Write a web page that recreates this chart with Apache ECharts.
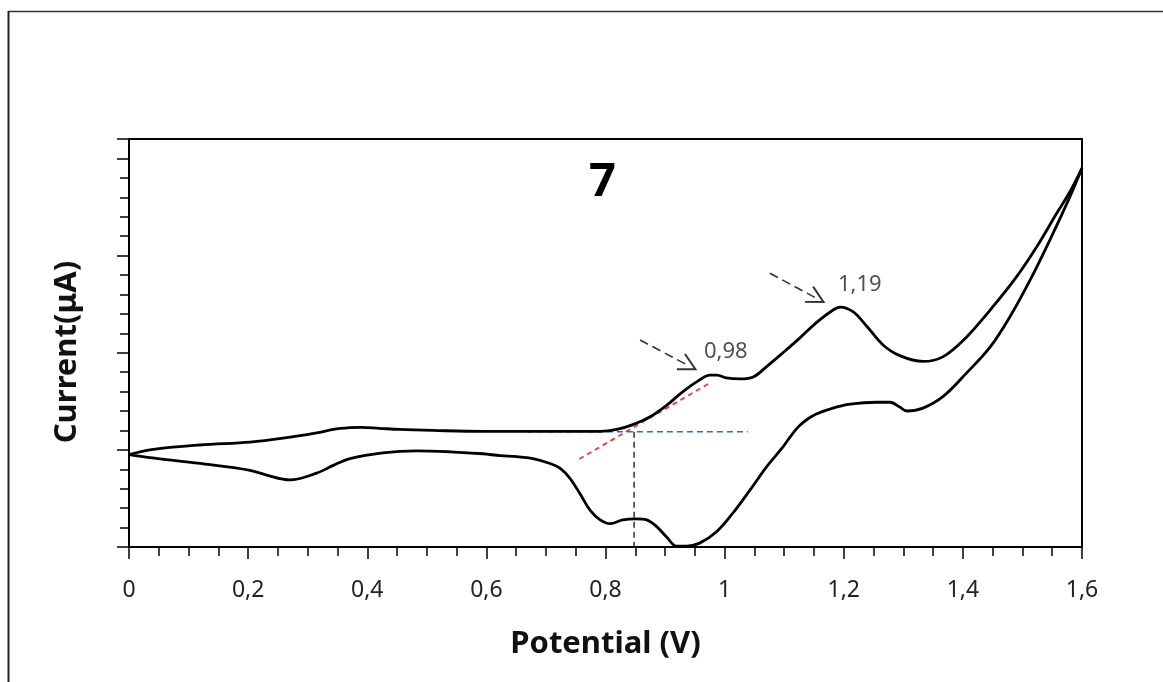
<!DOCTYPE html>
<html><head><meta charset="utf-8">
<script src="https://cdn.jsdelivr.net/npm/echarts@6/dist/echarts.min.js"></script>
<style>html,body{margin:0;padding:0;background:#fff}#c{width:1163px;height:682px}</style>
</head><body><div id="c"></div>
<script>
// ---- data (potential in V, current in arbitrary µA units) ----
const fwdPotential = [0, 0.035, 0.119, 0.203, 0.259, 0.315, 0.343, 0.371, 0.390, 0.420, 0.455, 0.510, 0.594, 0.707, 0.791, 0.819, 0.846, 0.875, 0.903, 0.930, 0.958, 0.975, 0.987, 1.003, 1.026, 1.048, 1.071, 1.098, 1.126, 1.154, 1.182, 1.194, 1.216, 1.239, 1.266, 1.294, 1.333, 1.367, 1.406, 1.446, 1.490, 1.524, 1.558, 1.580, 1.600];
const fwdCurrent   = [-0.05, 0.00, 0.05, 0.08, 0.12, 0.175, 0.21, 0.228, 0.232, 0.222, 0.21, 0.20, 0.19, 0.19, 0.19, 0.21, 0.26, 0.34, 0.46, 0.60, 0.72, 0.77, 0.77, 0.74, 0.73, 0.75, 0.86, 1.00, 1.15, 1.31, 1.44, 1.47, 1.42, 1.27, 1.08, 0.97, 0.91, 0.96, 1.16, 1.44, 1.78, 2.09, 2.44, 2.66, 2.90];
const revPotential = [1.600, 1.580, 1.546, 1.513, 1.479, 1.446, 1.406, 1.367, 1.333, 1.306, 1.294, 1.278, 1.255, 1.211, 1.182, 1.154, 1.140, 1.126, 1.112, 1.098, 1.071, 1.043, 1.014, 0.987, 0.958, 0.936, 0.919, 0.903, 0.886, 0.869, 0.852, 0.829, 0.808, 0.791, 0.774, 0.757, 0.740, 0.724, 0.707, 0.678, 0.651, 0.623, 0.594, 0.539, 0.483, 0.426, 0.371, 0.343, 0.315, 0.270, 0.231, 0.203, 0.119, 0.035, 0];
const revCurrent   = [2.90, 2.61, 2.16, 1.75, 1.37, 1.06, 0.79, 0.55, 0.43, 0.40, 0.44, 0.49, 0.49, 0.47, 0.43, 0.37, 0.32, 0.25, 0.15, 0.03, -0.17, -0.41, -0.65, -0.84, -0.96, -0.99, -0.99, -0.90, -0.79, -0.72, -0.71, -0.72, -0.76, -0.72, -0.62, -0.45, -0.29, -0.19, -0.14, -0.09, -0.07, -0.06, -0.04, -0.02, -0.01, -0.03, -0.09, -0.16, -0.24, -0.31, -0.26, -0.21, -0.14, -0.08, -0.05];

const tangentPotential  = [0.756, 0.975];
const tangentCurrent    = [-0.094, 0.688];
const baselinePotential = [0.668, 1.039];
const baselineCurrent   = [0.187, 0.187];
const onsetPotential    = [0.848, 0.848];
const onsetCurrent      = [0.187, -1];

const peakLabels         = ['0,98', '1,19'];
const peakLabelPotential = [1.002, 1.227];
const peakLabelCurrent   = [1.007, 1.702];
const arrowStartPotential = [0.858, 1.076];
const arrowStartCurrent   = [1.131, 1.818];
const arrowEndPotential   = [0.940, 1.155];
const arrowEndCurrent     = [0.865, 1.558];

const xTickValues = [0, 0.2, 0.4, 0.6, 0.8, 1, 1.2, 1.4, 1.6];
const xTickLabels = ['0', '0,2', '0,4', '0,6', '0,8', '1', '1,2', '1,4', '1,6'];
const chartTitle = '7';

// ---- build ----
const zip = (a, b) => a.map((v, i) => [v, b[i]]);
const FONT = 'Noto Sans';
const chevron = 'path://M0,0 L10,18 L8.2,19 L0,4.2 L-8.2,19 L-10,18 Z';

const chart = echarts.init(document.getElementById('c'), null, {renderer: 'canvas'});
chart.setOption({
  animation: false,
  backgroundColor: '#fff',
  title: {
    text: chartTitle, left: 584, top: 154,
    textStyle: {fontFamily: FONT, fontSize: 47, fontWeight: 'bold', color: '#000'}
  },
  graphic: [
    {type: 'line', shape: {x1: 8, y1: 11.5, x2: 1163, y2: 11.5}, style: {stroke: '#333', lineWidth: 1.5}},
    {type: 'line', shape: {x1: 8.5, y1: 11, x2: 8.5, y2: 682}, style: {stroke: '#222', lineWidth: 2}}
  ],
  grid: {left: 129, right: 81, top: 139, bottom: 135, show: true, borderColor: '#000', borderWidth: 2, backgroundColor: 'transparent'},
  xAxis: {
    type: 'value', min: 0, max: 1.6, interval: 0.2,
    name: 'Potential (V)', nameLocation: 'middle', nameGap: 82,
    nameTextStyle: {fontFamily: FONT, fontSize: 31, fontWeight: 'bold', color: '#111'},
    axisLine: {onZero: false, lineStyle: {color: '#000', width: 2}},
    axisTick: {show: true, length: 12, lineStyle: {color: '#000', width: 1.5}},
    minorTick: {show: true, splitNumber: 4, length: 9, lineStyle: {color: '#000', width: 1.5}},
    splitLine: {show: false},
    axisLabel: {
      margin: 32, fontFamily: FONT, fontSize: 23, color: '#222',
      formatter: v => { const i = xTickValues.findIndex(t => Math.abs(t - v) < 1e-6); return i >= 0 ? xTickLabels[i] : ''; }
    }
  },
  yAxis: [
    {
      type: 'value', min: -1, max: 3.2, interval: 0.2,
      name: 'Current(μA)', nameLocation: 'middle', nameGap: 46,
      nameTextStyle: {fontFamily: FONT, fontSize: 31, fontWeight: 'bold', color: '#111', padding: [0, 18, 0, 0]},
      axisLine: {show: true, onZero: false, lineStyle: {color: '#000', width: 2}},
      axisTick: {show: true, length: 9, lineStyle: {color: '#000', width: 1.5}},
      axisLabel: {show: false},
      splitLine: {show: false}
    },
    {
      type: 'value', min: -1, max: 3.2, interval: 1, position: 'left',
      axisLine: {show: false, onZero: false},
      axisTick: {show: true, length: 12, lineStyle: {color: '#000', width: 1.5}},
      axisLabel: {show: false},
      splitLine: {show: false}
    }
  ],
  series: [
    {type: 'line', data: zip(fwdPotential, fwdCurrent), smooth: 0.35, symbol: 'none', lineStyle: {color: '#000', width: 2.8}, z: 5},
    {type: 'line', data: zip(revPotential, revCurrent), smooth: 0.35, symbol: 'none', lineStyle: {color: '#000', width: 2.8}, z: 5},
    {type: 'line', data: zip(tangentPotential, tangentCurrent), symbol: 'none', lineStyle: {color: '#f03a3a', width: 1.8, type: [5, 4]}},
    {type: 'line', data: zip(baselinePotential, baselineCurrent), symbol: 'none', lineStyle: {color: '#2f6fa8', width: 1.4, type: [6, 4]}},
    {type: 'line', data: zip(onsetPotential, onsetCurrent), symbol: 'none', lineStyle: {color: '#222', width: 1.4, type: [6, 4]}},
    {
      type: 'lines', coordinateSystem: 'cartesian2d', silent: true,
      data: arrowStartPotential.map((x, i) => ({coords: [[x, arrowStartCurrent[i]], [arrowEndPotential[i], arrowEndCurrent[i]]]})),
      symbol: ['none', chevron], symbolSize: 19,
      lineStyle: {color: '#333', width: 1.6, type: [9, 5], opacity: 1}
    },
    {
      type: 'scatter', symbolSize: 1, itemStyle: {color: 'rgba(0,0,0,0)'}, silent: true,
      data: peakLabels.map((t, i) => [peakLabelPotential[i], peakLabelCurrent[i], t]),
      label: {show: true, position: 'inside', formatter: p => p.value[2], fontFamily: FONT, fontSize: 22, color: '#222'}
    }
  ]
});
</script></body></html>
